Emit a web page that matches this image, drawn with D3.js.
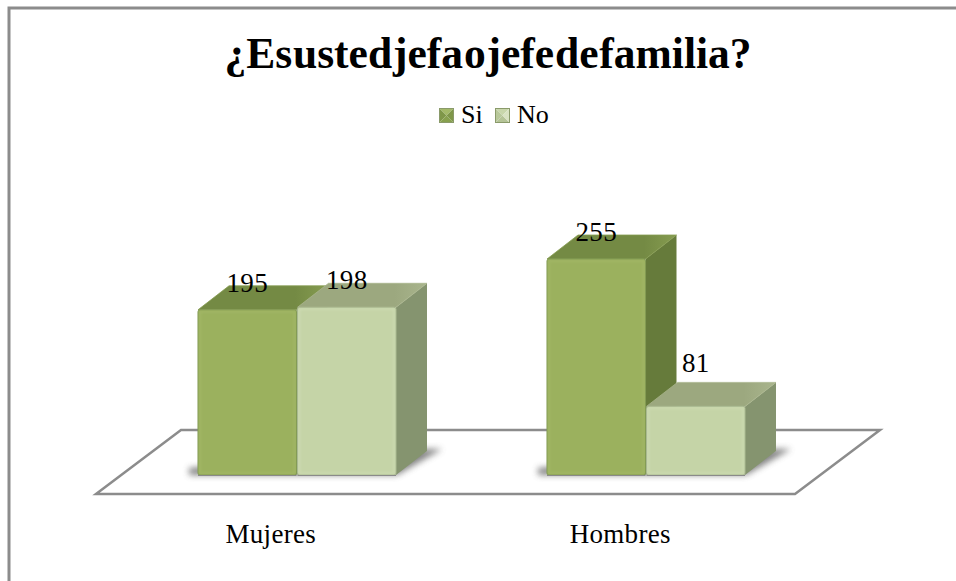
<!DOCTYPE html>
<html><head><meta charset="utf-8">
<script src="https://cdn.jsdelivr.net/npm/d3@7"></script>
<style>html,body{margin:0;padding:0;background:#fff;overflow:hidden}svg{display:block}text{font-family:"Liberation Serif",serif;fill:#000}</style>
</head><body><svg id="c" width="956" height="581"></svg>
<script>
const chartTitle = "¿Es usted jefa o jefe de familia?";
const categories = ["Mujeres", "Hombres"];
const seriesNames = ["Si", "No"];
const siValues = [195, 255];
const noValues = [198, 81];

const palette = {
  Si: {front:"#9bb15e", edge:"#7f9750", glow:"#a5b96a", top:"#748a44", topHi:"#869c50", side:"#667b3b", sw:["#a3b968","#7f9749","#87a04e","#7f9749"]},
  No: {front:"#c5d4a7", edge:"#a5b58c", glow:"#cfdcb6", top:"#9ca87f", topHi:"#a9b58d", side:"#85946f", sw:["#c8d6ab","#b8c89a","#b5c497","#d8e2c2"]}
};
const depthX = 31, depthY = 24;

const svg = d3.select("#c");
const defs = svg.append("defs");
defs.append("filter").attr("id","blurS").attr("x","-20%").attr("y","-50%").attr("width","140%").attr("height","200%")
  .append("feGaussianBlur").attr("stdDeviation",3);
defs.append("filter").attr("id","blurE").attr("x","-10%").attr("y","-10%").attr("width","120%").attr("height","120%")
  .append("feGaussianBlur").attr("stdDeviation",0.8);
seriesNames.forEach(s=>{
  const g = defs.append("linearGradient").attr("id","top"+s).attr("x1",0).attr("x2",1).attr("y1",0).attr("y2",0);
  g.append("stop").attr("offset","0.75").attr("stop-color",palette[s].top);
  g.append("stop").attr("offset","1").attr("stop-color",palette[s].topHi);
});

// frame: open on right and bottom
svg.append("path").attr("d",d3.line()([[9,581],[9,8],[956,8]])).attr("fill","none").attr("stroke","#8c8c8c").attr("stroke-width",3);

// title & legend
svg.append("text").attr("x",488).attr("y",68).attr("text-anchor","middle")
  .attr("font-size",43.5).attr("font-weight","bold").attr("word-spacing","-10").text(chartTitle);

const legendX = d3.scalePoint().domain(seriesNames).range([439,495]);
const legend = svg.selectAll("g.leg").data(seriesNames).join("g").attr("class","leg")
  .attr("transform",d=>`translate(${legendX(d)},108)`);
legend.each(function(s){
  const g=d3.select(this), z=15, c=palette[s].sw;
  [[[0,0],[z,0],[z/2,z/2]],[[0,0],[0,z],[z/2,z/2]],[[0,z],[z,z],[z/2,z/2]],[[z,0],[z,z],[z/2,z/2]]].forEach((t,i)=>{
    g.append("path").attr("d",d3.line().curve(d3.curveLinearClosed)(t)).attr("fill",c[i]);
  });
  g.append("rect").attr("x",0.5).attr("y",0.5).attr("width",z-1).attr("height",z-1).attr("fill","none").attr("stroke","#8a9a6a").attr("stroke-width",1);
});
legend.append("text").attr("x",22).attr("y",15).attr("font-size",26).text(d=>d);

// scales
const yScale = d3.scaleLinear().domain([0,255]).range([475,259]);
const floorBand = d3.scaleBand().domain(categories).range([96,795]);
const xBand = d3.scaleBand().domain(categories).range([123,821]);
const xInner = d3.scaleBand().domain(seriesNames).range([-99.5,99.5]);

// floor
const fl = floorBand.range(), y0 = yScale(0);
const floorY = y0+19, floorBack = y0-45, floorDx = 85;
svg.append("path").attr("d",d3.line().curve(d3.curveLinearClosed)([[fl[0],floorY],[fl[1],floorY],[fl[1]+floorDx,floorBack],[fl[0]+floorDx,floorBack]]))
  .attr("fill","#fff").attr("stroke","#8c8c8c").attr("stroke-width",2.5);

// category labels through an axis
const axisG = svg.append("g").attr("transform",`translate(0,${floorY})`).call(d3.axisBottom(floorBand).tickSize(0).tickPadding(0));
axisG.select(".domain").remove();
axisG.selectAll("text").attr("y",49).attr("dy",0).attr("font-size",27).attr("letter-spacing",0.3).attr("font-family","Liberation Serif").attr("fill","#000");

const rows = categories.map((c,i)=>({c,vals:[{s:"Si",v:siValues[i]},{s:"No",v:noValues[i]}]}));
const poly = d3.line().curve(d3.curveLinearClosed);

rows.forEach(r=>{
  const cx = xBand(r.c)+xBand.bandwidth()/2;
  const left = cx+xInner("Si"), right = cx+xInner("No")+xInner.bandwidth();
  // soft shadow on the floor
  svg.append("path").attr("d",poly([[left-9,y0-7],[left-9,y0],[right,y0],[right+depthX+14,y0-depthY-2],[right+depthX,y0-depthY-2]]))
    .attr("fill","#666").attr("opacity",0.8).attr("filter","url(#blurS)");
  // Si first, then No, so the No box sits in front of the Si side face
  r.vals.forEach(d=>{
    const x0 = cx+xInner(d.s), w = xInner.bandwidth()-1, x1 = x0+w, yT = yScale(d.v), p = palette[d.s];
    const g = svg.append("g");
    g.append("path").attr("d",poly([[x1,yT],[x1+depthX,yT-depthY],[x1+depthX,y0-depthY],[x1,y0]])).attr("fill",p.side);
    g.append("path").attr("d",poly([[x0,yT],[x0+depthX,yT-depthY],[x1+depthX,yT-depthY],[x1,yT]]))
      .attr("fill",`url(#top${d.s})`).attr("stroke",p.topHi).attr("stroke-width",0.8);
    g.append("rect").attr("x",x0).attr("y",yT).attr("width",w).attr("height",y0-yT).attr("rx",2).attr("fill",p.front).attr("stroke",p.edge).attr("stroke-width",1);
    g.append("rect").attr("x",x0+2).attr("y",yT+2).attr("width",w-4).attr("height",y0-yT-4).attr("fill","none").attr("stroke",p.glow).attr("stroke-width",1.2).attr("filter","url(#blurE)");
    g.append("line").attr("x1",x0).attr("x2",x1).attr("y1",y0+0.5).attr("y2",y0+0.5).attr("stroke","#8a8a8a").attr("stroke-width",1);
  });
});

// value labels on top of all bars
const lowValueLift = 16;
rows.forEach(r=>{
  const cx = xBand(r.c)+xBand.bandwidth()/2;
  r.vals.forEach(d=>{
    svg.append("text").attr("x",cx+xInner(d.s)+xInner.bandwidth()/2-0.5)
      .attr("y",yScale(d.v)-18-(d.v<100?lowValueLift:0))
      .attr("text-anchor","middle").attr("font-size",27).attr("letter-spacing",0.3).text(d.v);
  });
});
</script></body></html>
